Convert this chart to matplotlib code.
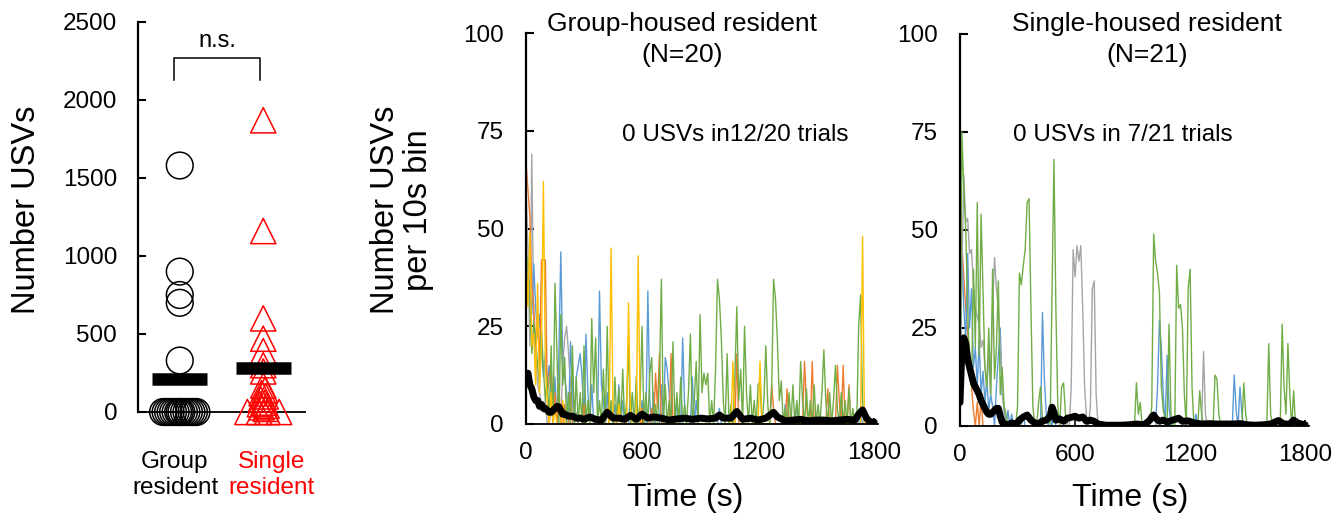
import matplotlib
matplotlib.use('Agg')
import matplotlib.pyplot as plt
import numpy as np

plt.rcParams['font.family'] = ['Liberation Sans', 'DejaVu Sans']

W, H = 1338, 518

# total USVs per trial
group_usvs = [1580, 900, 750, 700, 330] + [0] * 15
group_dx = [0, 0, 0, 0, 0, -0.2, -0.17, -0.14, -0.11, -0.08, -0.05, -0.02, 0.0,
            0.02, 0.05, 0.08, 0.11, 0.14, 0.17, 0.2]
single_usvs = [1870, 1160, 600, 470, 390, 300, 260, 170, 140, 120, 100, 80, 60,
               50, 40, 30, 20, 0, 0, 0, 0]
single_dx = [0, 0, 0, 0, 0, 0, 0, 0, 0.02, -0.02, 0.03, -0.03, 0.02, -0.04, 0.04,
             -0.02, 0.03, -0.19, 0.19, -0.05, 0.05]

# USVs per 10 s bin, (time s, count); bins not listed are 0
bins = np.arange(0, 1810, 10)

grp_green = [(0, 45), (10, 40), (20, 30), (30, 18), (40, 26), (50, 22), (60, 15), (70, 10),
             (80, 24), (90, 14), (100, 6), (110, 12), (130, 20), (150, 36), (160, 18), (180, 28),
             (190, 10), (200, 17), (220, 8), (240, 20), (260, 12), (280, 8), (300, 20), (320, 6),
             (340, 27), (350, 8), (360, 22), (380, 6), (400, 14), (420, 25), (440, 6), (460, 12),
             (480, 9), (500, 14), (520, 6), (530, 20), (550, 8), (570, 12), (590, 6), (600, 25),
             (620, 8), (640, 13), (650, 17), (670, 5), (690, 12), (700, 37), (720, 10), (740, 6),
             (760, 21), (780, 8), (800, 12), (820, 5), (840, 8), (850, 23), (870, 6), (880, 16),
             (900, 28), (910, 8), (920, 13), (930, 10), (940, 13), (960, 6), (980, 14), (990, 37),
             (1000, 32), (1010, 22), (1020, 6), (1040, 18), (1060, 5), (1080, 12), (1090, 30),
             (1100, 6), (1110, 14), (1130, 25), (1140, 8), (1160, 10), (1180, 6), (1200, 10),
             (1210, 11), (1230, 6), (1240, 20), (1250, 5), (1270, 8), (1280, 37), (1290, 32),
             (1300, 21), (1310, 6), (1320, 11), (1340, 4), (1360, 8), (1380, 10), (1400, 6),
             (1420, 16), (1430, 6), (1450, 9), (1470, 6), (1490, 10), (1510, 5), (1530, 8),
             (1540, 19), (1550, 6), (1570, 8), (1590, 6), (1600, 15), (1610, 4), (1630, 8),
             (1650, 6), (1670, 9), (1690, 4), (1720, 25), (1730, 33), (1740, 6)]
grp_yellow = [(0, 45), (10, 30), (20, 49), (30, 20), (40, 23), (50, 10), (60, 36), (70, 8),
              (80, 20), (90, 62), (100, 15), (110, 5), (130, 8), (150, 4), (190, 6), (440, 45),
              (450, 3), (480, 5), (530, 31), (540, 4), (580, 43), (590, 3), (1070, 16),
              (1210, 16), (1740, 48)]
grp_orange = [(0, 67), (10, 60), (20, 53), (30, 35), (40, 30), (50, 20), (60, 28), (70, 15),
              (80, 42), (90, 42), (100, 42), (110, 8), (120, 12), (130, 15), (150, 8), (170, 10),
              (200, 5), (230, 8), (300, 5), (420, 4), (600, 4), (650, 4), (670, 13), (680, 4),
              (690, 18), (750, 18), (1090, 18), (1270, 10), (1280, 4), (1350, 9), (1440, 16),
              (1450, 5), (1480, 16), (1560, 9), (1610, 15), (1620, 6), (1640, 15), (1670, 10)]
grp_blue = [(0, 30), (10, 41), (20, 35), (30, 28), (40, 41), (50, 30), (60, 22), (70, 28),
            (80, 20), (90, 12), (100, 18), (110, 10), (120, 15), (130, 8), (150, 12), (170, 18),
            (180, 44), (190, 15), (200, 12), (210, 8), (230, 21), (240, 10), (260, 12), (270, 15),
            (280, 18), (290, 12), (310, 23), (320, 8), (340, 10), (380, 34), (390, 10), (400, 6),
            (420, 8), (460, 5), (480, 10), (500, 6), (540, 8), (600, 6), (630, 34), (640, 6),
            (660, 8), (700, 10), (720, 17), (730, 14), (740, 8), (780, 6), (810, 22), (820, 5),
            (860, 12), (880, 6), (1000, 4), (1340, 5), (1400, 5), (1730, 3)]
grp_gray = [(0, 60), (10, 45), (20, 20), (30, 69), (40, 25), (50, 18), (60, 10), (70, 8),
            (80, 5), (90, 3), (100, 6), (130, 5), (190, 15), (200, 22), (210, 25), (220, 18),
            (230, 10), (240, 6), (260, 3)]
grp_mean = [(0, 12), (10, 13), (20, 10), (30, 9), (40, 7), (50, 6), (60, 6), (70, 4.5), (80, 5),
            (90, 4), (100, 4), (110, 3.5), (120, 3), (130, 3), (140, 3.5), (150, 4), (160, 4.5),
            (170, 4.4), (180, 3.5), (190, 2.5), (200, 2.5), (220, 2), (240, 2), (260, 1.5),
            (280, 1.5), (300, 1.2), (330, 1.8), (360, 1.2), (390, 1), (420, 3), (450, 1.5),
            (480, 1.5), (510, 1.2), (540, 2.2), (570, 1.2), (600, 2.5), (630, 1.5), (660, 1.8),
            (700, 1.5), (740, 1), (780, 1.3), (820, 1.5), (860, 1.2), (900, 1.5), (940, 1.3),
            (980, 1.5), (1000, 2.3), (1020, 1.5), (1060, 1.5), (1090, 3.2), (1120, 1.2),
            (1160, 1.5), (1200, 1), (1240, 1.5), (1280, 3), (1300, 1.8), (1340, 0.8), (1380, 1),
            (1420, 1.2), (1460, 0.8), (1500, 1), (1540, 1), (1580, 0.8), (1620, 1), (1660, 1.2),
            (1700, 1), (1720, 2.5), (1740, 3.6), (1760, 1.5), (1780, 0.5), (1800, 0.5)]

sgl_green = [(0, 5), (10, 75), (20, 60), (30, 50), (40, 30), (50, 15), (60, 10), (70, 40),
             (80, 20), (90, 57), (100, 18), (110, 54), (120, 35), (130, 15), (140, 10), (150, 25),
             (160, 8), (170, 40), (180, 12), (190, 20), (200, 37), (210, 8), (220, 15), (230, 5),
             (240, 3), (300, 5), (310, 39), (320, 36), (330, 41), (340, 45), (350, 57), (360, 58),
             (370, 30), (380, 5), (410, 6), (420, 10), (430, 2), (480, 35), (490, 68), (500, 30),
             (510, 5), (530, 10), (540, 11), (550, 3), (920, 11), (930, 3), (940, 6), (1000, 5),
             (1010, 49), (1020, 42), (1030, 39), (1040, 34), (1050, 10), (1060, 4), (1070, 2),
             (1090, 26), (1100, 3), (1130, 41), (1140, 30), (1150, 31), (1160, 25), (1170, 8),
             (1190, 35), (1200, 40), (1210, 10), (1250, 9), (1260, 3), (1330, 13), (1340, 12),
             (1350, 3), (1480, 11), (1490, 3), (1610, 21), (1620, 3), (1680, 26), (1690, 10),
             (1700, 3), (1710, 21), (1720, 8), (1740, 9)]
sgl_gray = [(0, 10), (10, 40), (20, 64), (30, 52), (40, 53), (50, 44), (60, 45), (70, 36),
            (80, 30), (90, 28), (100, 26), (110, 20), (120, 22), (130, 15), (140, 10), (150, 18),
            (160, 8), (170, 30), (180, 43), (190, 35), (200, 30), (210, 20), (220, 10), (230, 3),
            (580, 10), (590, 45), (600, 38), (610, 46), (620, 42), (630, 46), (640, 30), (650, 10),
            (660, 2), (680, 5), (690, 35), (700, 37), (710, 8), (1270, 19), (1280, 3)]
sgl_blue = [(0, 8), (10, 44), (20, 30), (30, 22), (40, 44), (50, 25), (60, 35), (70, 15),
            (80, 20), (90, 10), (100, 22), (110, 8), (120, 14), (130, 6), (140, 12), (150, 4),
            (160, 8), (170, 5), (190, 10), (200, 18), (210, 25), (220, 8), (230, 5), (250, 4),
            (270, 3), (300, 2), (330, 3), (430, 29), (440, 12), (450, 3), (470, 5), (490, 4),
            (1030, 10), (1040, 27), (1050, 20), (1060, 8), (1080, 18), (1090, 5), (1230, 3),
            (1430, 13), (1440, 4), (1460, 10), (1470, 3)]
sgl_orange = [(0, 52), (10, 46), (20, 38), (30, 30), (40, 24), (50, 18), (60, 10), (70, 4),
              (90, 6), (110, 7)]
sgl_yellow = [(0, 0)]
sgl_mean = [(0, 6), (10, 20), (20, 22.5), (30, 21), (40, 17), (50, 15), (60, 13), (70, 11),
            (80, 10), (90, 9), (100, 8), (110, 6.5), (120, 5.5), (130, 4.5), (140, 3.5), (150, 3),
            (160, 3), (170, 3.5), (180, 4), (190, 4.5), (200, 4.5), (210, 2.5), (220, 1),
            (230, 0.5), (250, 0.3), (270, 0.8), (290, 0.3), (310, 1.5), (330, 2.3), (350, 2.8),
            (370, 1.5), (390, 0.8), (410, 0.5), (430, 1.3), (450, 1.5), (470, 2.5), (480, 4.8),
            (490, 3.5), (500, 1.5), (520, 1.8), (540, 1.2), (560, 2), (580, 2.2), (600, 2.5),
            (620, 2), (640, 2.3), (660, 1.2), (680, 1.5), (700, 1.2), (720, 0.5), (760, 0.2),
            (800, 0.2), (840, 0.2), (880, 0.3), (920, 0.5), (960, 0.3), (990, 1.5), (1000, 2.3),
            (1010, 2.8), (1020, 2), (1040, 1.2), (1060, 1.5), (1080, 1), (1110, 1.5), (1140, 2),
            (1160, 1.2), (1190, 1.3), (1220, 0.8), (1260, 0.5), (1300, 0.6), (1340, 0.5),
            (1380, 0.5), (1420, 0.5), (1460, 0.6), (1500, 0.3), (1540, 0.2), (1580, 0.3),
            (1620, 0.5), (1660, 1.4), (1690, 0.5), (1720, 0.5), (1740, 1.5), (1760, 0.8),
            (1780, 0.5), (1800, 0.3)]

BLUE, ORANGE, GRAY, YELLOW, GREEN = '#5B9BD5', '#ED7D31', '#A5A5A5', '#FFC000', '#70AD47'


def binned(pairs):
    y = np.zeros(len(bins))
    for t, v in pairs:
        y[t // 10] = v
    return y


def fig_xy(px, py):
    return px / W, 1 - py / H


fig = plt.figure(figsize=(W / 100, H / 100), dpi=100)

# ---- left: total USVs ----
ax1 = fig.add_axes([138 / W, 1 - 412 / H, 167 / W, 390 / H])
ax1.scatter(np.array(group_dx), group_usvs, s=370, marker='o', facecolors='none',
            edgecolors='black', linewidths=1.1, clip_on=False, zorder=3)
ax1.scatter(1 + np.array(single_dx), single_usvs, s=330, marker='^', facecolors='none',
            edgecolors='red', linewidths=1.1, clip_on=False, zorder=3)
for xc, vals in [(0, group_usvs), (1, single_usvs)]:
    ax1.plot([xc - 0.33, xc + 0.33], [np.mean(vals)] * 2, color='black', lw=9,
             solid_capstyle='butt', zorder=4)
ax1.set_xlim(-0.5, 1.5)
ax1.set_ylim(0, 2500)
ax1.set_yticks([0, 500, 1000, 1500, 2000, 2500])
ax1.set_xticks([])
ax1.tick_params(axis='y', direction='in', length=6, width=1.5, labelsize=17.5, pad=15)
for s in ['top', 'right']:
    ax1.spines[s].set_visible(False)
ax1.spines['left'].set_linewidth(1.6)
ax1.spines['bottom'].set_linewidth(1.3)
ax1.plot([-0.07, -0.07, 0.96, 0.96], [2130, 2270, 2270, 2130], color='black', lw=1.1,
         clip_on=False)
ax1.text(0.45, 2380, 'n.s.', ha='center', va='center', fontsize=17)
fig.text(*fig_xy(175, 475), 'Group\nresident', ha='center', va='center', fontsize=17.5,
         linespacing=1.2)
fig.text(*fig_xy(272, 475), 'Single\nresident', ha='center', va='center', fontsize=17.5,
         linespacing=1.2, color='red')
fig.text(*fig_xy(27, 210), 'Number USVs', rotation=90, ha='center', va='center', fontsize=23.5)


def trace_panel(ax, traces, mean):
    for pairs, c in traces:
        ax.plot(bins, binned(pairs), color=c, lw=1.0)
    mt, mv = zip(*mean)
    ax.plot(mt, mv, color='black', lw=5, solid_joinstyle='round', solid_capstyle='round')
    ax.set_xlim(0, 1820)
    ax.set_ylim(0, 100)
    ax.set_xticks([0, 600, 1200, 1800])
    ax.set_yticks([0, 25, 50, 75, 100])
    ax.tick_params(axis='y', direction='in', length=6, width=1.5, labelsize=17.5, pad=16)
    ax.tick_params(axis='x', direction='in', length=4, width=1.2, labelsize=17.5, pad=13)
    for s in ['top', 'right']:
        ax.spines[s].set_visible(False)
    ax.spines['left'].set_linewidth(1.6)
    ax.spines['bottom'].set_linewidth(1.3)


# ---- middle: group-housed ----
ax2 = fig.add_axes([526 / W, 1 - 424 / H, 352 / W, 391 / H])
trace_panel(ax2, [(grp_gray, GRAY), (grp_blue, BLUE), (grp_orange, ORANGE),
                  (grp_green, GREEN), (grp_yellow, YELLOW)], grp_mean)
fig.text(*fig_xy(682, 24), 'Group-housed resident', ha='center', va='center', fontsize=19)
fig.text(*fig_xy(682, 55), '(N=20)', ha='center', va='center', fontsize=19)
fig.text(*fig_xy(735, 135), '0 USVs in12/20 trials', ha='center', va='center', fontsize=17.5)
fig.text(*fig_xy(685, 498), 'Time (s)', ha='center', va='center', fontsize=23)
fig.text(*fig_xy(402, 210), 'Number USVs\nper 10s bin', rotation=90, ha='center', va='center',
         fontsize=23.5, linespacing=1.05)

# ---- right: single-housed ----
ax3 = fig.add_axes([960 / W, 1 - 426 / H, 349 / W, 392 / H])
trace_panel(ax3, [(sgl_yellow, YELLOW), (sgl_orange, ORANGE), (sgl_blue, BLUE),
                  (sgl_gray, GRAY), (sgl_green, GREEN)], sgl_mean)
fig.text(*fig_xy(1147, 24), 'Single-housed resident', ha='center', va='center', fontsize=19)
fig.text(*fig_xy(1147, 55), '(N=21)', ha='center', va='center', fontsize=19)
fig.text(*fig_xy(1123, 135), '0 USVs in 7/21 trials', ha='center', va='center', fontsize=17.5)
fig.text(*fig_xy(1130, 498), 'Time (s)', ha='center', va='center', fontsize=23)

fig.savefig('out.png', dpi=100)
